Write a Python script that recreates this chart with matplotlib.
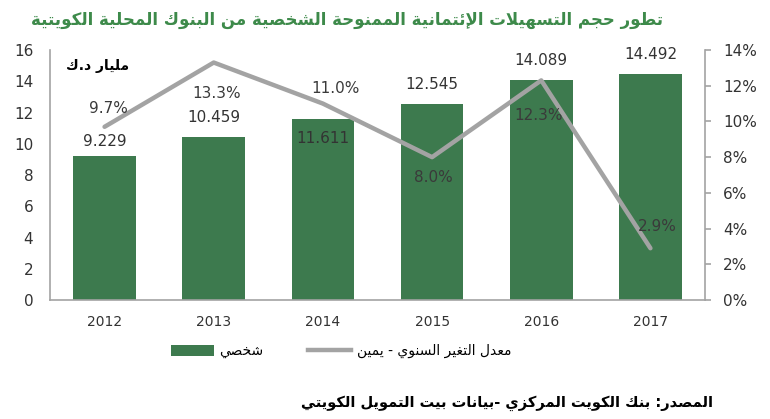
import matplotlib
matplotlib.use("Agg")
import matplotlib.pyplot as plt
from matplotlib.patches import Patch
from matplotlib.lines import Line2D

# ── Data ────────────────────────────────────────────────
years = ["2012", "2013", "2014", "2015", "2016", "2017"]
credit = [9.229, 10.459, 11.611, 12.545, 14.089, 14.492]   # مليار د.ك
growth = [9.7, 13.3, 11.0, 8.0, 12.3, 2.9]                 # %

title_txt = "تطور حجم التسهيلات الإئتمانية الممنوحة الشخصية من البنوك المحلية الكويتية"
unit_txt = "مليار د.ك"
bar_name = "شخصي"
line_name = "معدل التغير السنوي - يمين"
source_txt = "المصدر: بنك الكويت المركزي -بيانات بيت التمويل الكويتي"

# label offsets (points) – Excel placed them by hand
bar_lab_off = [10, 14, -14, 14, 14, 14]
line_lab_off = [(3, 13), (2, -22), (9, 11), (1, -15), (-2, -25), (5, 16)]

# ── minimal Arabic shaping (matplotlib has no bidi / joining) ──
TWO = {"آ": 0xFE81, "أ": 0xFE83, "ؤ": 0xFE85, "إ": 0xFE87, "ا": 0xFE8D, "ة": 0xFE93,
       "د": 0xFEA9, "ذ": 0xFEAB, "ر": 0xFEAD, "ز": 0xFEAF, "و": 0xFEED, "ى": 0xFEEF}
FOUR = {"ئ": 0xFE89, "ب": 0xFE8F, "ت": 0xFE95, "ث": 0xFE99, "ج": 0xFE9D, "ح": 0xFEA1,
        "خ": 0xFEA5, "س": 0xFEB1, "ش": 0xFEB5, "ص": 0xFEB9, "ض": 0xFEBD, "ط": 0xFEC1,
        "ظ": 0xFEC5, "ع": 0xFEC9, "غ": 0xFECD, "ف": 0xFED1, "ق": 0xFED5, "ك": 0xFED9,
        "ل": 0xFEDD, "م": 0xFEE1, "ن": 0xFEE5, "ه": 0xFEE9, "ي": 0xFEF1}
LAMALEF = {"آ": 0xFEF5, "أ": 0xFEF7, "إ": 0xFEF9, "ا": 0xFEFB}


def ar(text):
    out = []
    i, n = 0, len(text)
    prev_joins = False
    while i < n:
        c = text[i]
        nxt = text[i + 1] if i + 1 < n else ""
        if c == "ل" and nxt in LAMALEF:
            out.append(chr(LAMALEF[nxt] + (1 if prev_joins else 0)))
            prev_joins = False
            i += 2
            continue
        if c in FOUR:
            nj = nxt in FOUR or nxt in TWO
            base = FOUR[c]
            if prev_joins and nj:
                code = base + 3
            elif prev_joins:
                code = base + 1
            elif nj:
                code = base + 2
            else:
                code = base
            out.append(chr(code))
            prev_joins = nj
        elif c in TWO:
            out.append(chr(TWO[c] + (1 if prev_joins else 0)))
            prev_joins = False
        elif c == "ء":
            out.append(chr(0xFE80))
            prev_joins = False
        else:
            out.append(c)
            prev_joins = False
        i += 1
    return "".join(out)[::-1]


# ── Chart ───────────────────────────────────────────────
plt.rcParams["font.family"] = ["DejaVu Sans"]
green = "#3d7a4e"
grey = "#a3a3a3"
txt = "#333333"

fig = plt.figure(figsize=(7.7, 4.19), dpi=100)
ax = fig.add_axes([0.0649, 0.284, 0.8507, 0.5966])
ax2 = ax.twinx()

x = list(range(len(years)))
bars = ax.bar(x, credit, width=0.575, color=green, zorder=2)
ax.set_xlim(-0.5, 5.5)
ax.set_ylim(0, 16)
ax.set_yticks(range(0, 17, 2))
ax.set_xticks(x)
ax.set_xticklabels(years)

ax2.plot(x, growth, color=grey, linewidth=3.2, solid_capstyle="round", zorder=3)
ax2.set_ylim(0, 14)
ax2.set_yticks(range(0, 15, 2))
ax2.set_yticklabels([f"{v}%" for v in range(0, 15, 2)])

for a in (ax, ax2):
    a.spines["top"].set_visible(False)
    for s in ("left", "right", "bottom"):
        a.spines[s].set_color(grey)
        a.spines[s].set_linewidth(1.2)
ax.spines["right"].set_visible(False)
ax2.spines["left"].set_visible(False)
ax2.spines["bottom"].set_visible(False)

ax.tick_params(axis="y", length=0, pad=12, labelsize=11, labelcolor=txt)
ax.tick_params(axis="x", length=0, pad=11, labelsize=10, labelcolor=txt)
ax2.tick_params(axis="y", length=4, width=1.2, color=grey, pad=9,
                labelsize=11, labelcolor=txt)

for xi, v, off in zip(x, credit, bar_lab_off):
    ax.annotate(f"{v:.3f}", (xi, v), xytext=(0, off), textcoords="offset points",
                ha="center", va="center", fontsize=11, color=txt, zorder=4)
for xi, v, off in zip(x, growth, line_lab_off):
    ax2.annotate(f"{v:.1f}%", (xi, v), xytext=off, textcoords="offset points",
                 ha="center", va="center", fontsize=11, color="#3a3a3a", zorder=4)

fig.text(0.861, 0.952, ar(title_txt), ha="right", va="center",
         fontsize=12, fontweight="bold", color="#3d8a4a")
fig.text(0.127, 0.842, ar(unit_txt), ha="center", va="center",
         fontsize=10, fontweight="bold", color="black")
fig.text(0.926, 0.038, ar(source_txt), ha="right", va="center",
         fontsize=10.5, fontweight="bold", color="black")

handles = [Patch(facecolor=green), Line2D([0], [0], color=grey, linewidth=3.2)]
fig.legend(handles, [ar(bar_name), ar(line_name)], loc="center",
           bbox_to_anchor=(0.443, 0.162), ncol=2, frameon=False, fontsize=10,
           handlelength=3.1, handleheight=0.8, handletextpad=0.4, columnspacing=3.2)

plt.savefig("out.png", dpi=100)
